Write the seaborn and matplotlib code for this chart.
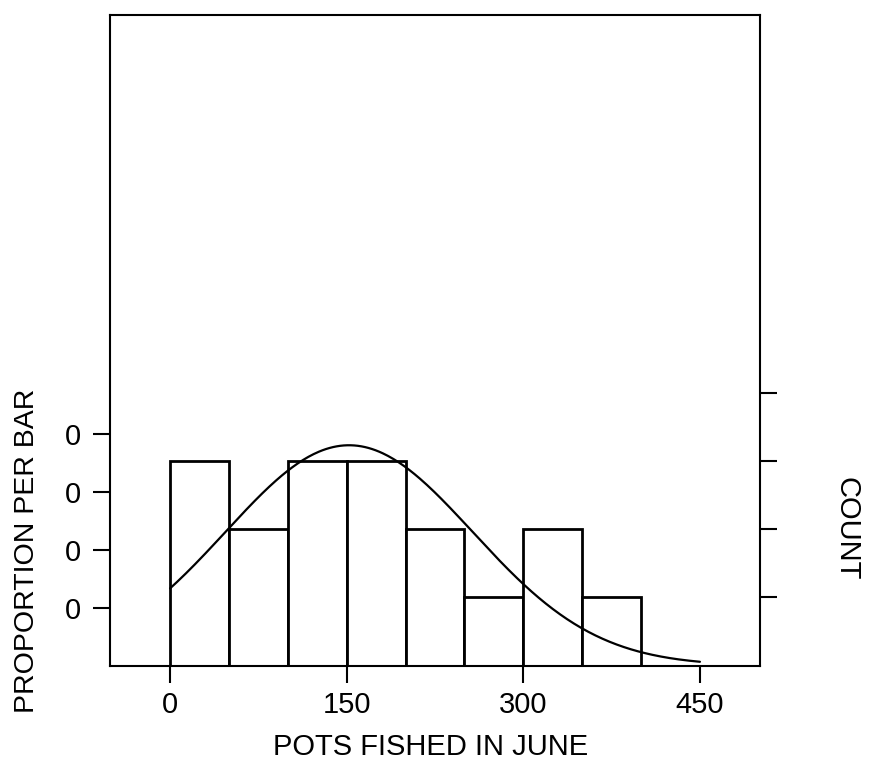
import numpy as np
import pandas as pd
import matplotlib
matplotlib.use("Agg")
import matplotlib.pyplot as plt
import seaborn as sns

# ---- data ----
bin_edges = [0, 50, 100, 150, 200, 250, 300, 350, 400]
bin_counts = [3, 2, 3, 3, 2, 1, 2, 1]
fit_mean = 152.0
fit_sd = 105.0
x_ticks = [0, 150, 300, 450]
prop_ticks = [0.05, 0.10, 0.15, 0.20]
prop_tick_labels = ["0", "0", "0", "0"]
count_ticks = [1, 2, 3, 4]

N = sum(bin_counts)
width = bin_edges[1] - bin_edges[0]
centers = [(a + b) / 2 for a, b in zip(bin_edges[:-1], bin_edges[1:])]
props = [c / N for c in bin_counts]
df = pd.DataFrame({"x": centers, "w": props})

xs = np.linspace(0, 450, 300)
curve = width * np.exp(-0.5 * ((xs - fit_mean) / fit_sd) ** 2) / (np.sqrt(2 * np.pi) * fit_sd)
cdf = pd.DataFrame({"x": xs, "y": curve})

sns.set_theme(style="white")
plt.rcParams["font.family"] = ["Liberation Sans", "DejaVu Sans"]

fig = plt.figure(figsize=(8.71, 7.76), dpi=100)
ax = fig.add_axes([110 / 871, 1 - 665.7 / 776, 650 / 871, 651 / 776])

sns.histplot(data=df, x="x", weights="w", bins=bin_edges, stat="count",
             fill=True, color="white", edgecolor="black", linewidth=2.0,
             alpha=1.0, ax=ax)
sns.lineplot(data=cdf, x="x", y="y", color="black", linewidth=1.6, ax=ax)

ymax = 0.561
ax.set_xlim(-51, 501)
ax.set_ylim(0, ymax)

for s in ax.spines.values():
    s.set_color("black")
    s.set_linewidth(1.5)
    s.set_visible(True)

ax.set_xticks(x_ticks)
ax.set_xticklabels([str(t) for t in x_ticks])
ax.set_yticks(prop_ticks)
ax.set_yticklabels(prop_tick_labels)
ax.tick_params(axis="both", direction="out", length=12, width=1.5, colors="black",
               labelsize=21)
ax.tick_params(axis="x", bottom=True, pad=6)
ax.tick_params(axis="y", left=True, pad=9)

ax.set_xlabel("POTS FISHED IN JUNE", fontsize=21, color="black")
ax.xaxis.set_label_coords(0.494, -0.103)
ax.set_ylabel("PROPORTION PER BAR", fontsize=20.5, color="black")
ax.yaxis.set_label_coords(-0.107, 0.177)

ax2 = ax.twinx()
ax2.set_ylim(0, ymax * N)
ax2.set_yticks(count_ticks)
ax2.set_yticklabels([])
ax2.tick_params(axis="y", right=True, direction="out", length=12, width=1.5, colors="black")
for s in ax2.spines.values():
    s.set_visible(False)
ax2.set_ylabel("COUNT", fontsize=21, rotation=270, color="black")
ax2.yaxis.set_label_coords(1.155, 0.211)
ax2.grid(False)
ax.grid(False)

fig.savefig("out.png", dpi=100, facecolor="white")
